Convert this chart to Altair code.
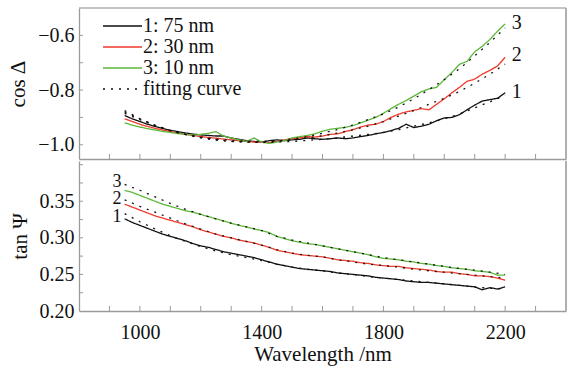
import altair as alt
import pandas as pd

# ---------------- data ----------------
wl = list(range(950, 2201, 25))
wl_fit = list(range(950, 2201, 50))

series_names = ["1: 75 nm", "2: 30 nm", "3: 10 nm", "fitting curve"]
series_colors = ["#111111", "#f03a2c", "#5cb83a", "#111111"]

cos_1 = [-0.893, -0.905, -0.915, -0.925, -0.933, -0.940, -0.947, -0.952, -0.957, -0.961,
         -0.964, -0.966, -0.968, -0.968, -0.975, -0.980, -0.985, -0.988, -0.990, -0.985,
         -0.982, -0.985, -0.982, -0.980, -0.975, -0.978, -0.980, -0.978, -0.975, -0.978,
         -0.975, -0.970, -0.966, -0.960, -0.955, -0.948, -0.940, -0.925, -0.937, -0.932,
         -0.925, -0.912, -0.902, -0.900, -0.890, -0.872, -0.855, -0.840, -0.835, -0.830, -0.810]
cos_2 = [-0.905, -0.915, -0.925, -0.933, -0.940, -0.946, -0.952, -0.957, -0.962, -0.966,
         -0.970, -0.973, -0.976, -0.979, -0.982, -0.985, -0.988, -0.990, -0.990, -0.992,
         -0.988, -0.982, -0.978, -0.975, -0.970, -0.972, -0.968, -0.962, -0.960, -0.952,
         -0.945, -0.935, -0.928, -0.925, -0.915, -0.900, -0.888, -0.880, -0.874, -0.868,
         -0.872, -0.852, -0.832, -0.810, -0.790, -0.768, -0.760, -0.742, -0.728, -0.712, -0.680]
cos_3 = [-0.920, -0.928, -0.935, -0.941, -0.946, -0.951, -0.955, -0.959, -0.962, -0.965,
         -0.962, -0.958, -0.952, -0.968, -0.975, -0.982, -0.988, -0.975, -0.990, -0.995,
         -0.990, -0.985, -0.975, -0.970, -0.966, -0.960, -0.950, -0.943, -0.940, -0.936,
         -0.930, -0.920, -0.910, -0.900, -0.885, -0.868, -0.852, -0.838, -0.822, -0.806,
         -0.796, -0.790, -0.762, -0.736, -0.706, -0.695, -0.660, -0.640, -0.615, -0.585, -0.558]

fit_cos_1 = [-0.875, -0.905, -0.930, -0.948, -0.962, -0.973, -0.981, -0.987, -0.990, -0.992,
             -0.990, -0.988, -0.984, -0.980, -0.975, -0.968, -0.962, -0.955, -0.945, -0.932,
             -0.920, -0.905, -0.888, -0.865, -0.843, -0.820]
fit_cos_2 = [-0.880, -0.905, -0.928, -0.948, -0.963, -0.975, -0.983, -0.988, -0.990, -0.990,
             -0.987, -0.982, -0.975, -0.967, -0.957, -0.945, -0.932, -0.915, -0.895, -0.875,
             -0.852, -0.830, -0.805, -0.775, -0.742, -0.705]
fit_cos_3 = [-0.885, -0.908, -0.930, -0.948, -0.962, -0.972, -0.979, -0.984, -0.987, -0.988,
             -0.985, -0.979, -0.970, -0.958, -0.944, -0.928, -0.908, -0.887, -0.862, -0.832,
             -0.798, -0.762, -0.722, -0.675, -0.626, -0.573]

tan_1 = [0.326, 0.321, 0.317, 0.313, 0.309, 0.305, 0.302, 0.299, 0.296, 0.292,
         0.289, 0.287, 0.284, 0.281, 0.279, 0.277, 0.275, 0.273, 0.270, 0.267,
         0.264, 0.262, 0.260, 0.258, 0.257, 0.256, 0.255, 0.254, 0.252, 0.251,
         0.250, 0.249, 0.248, 0.246, 0.245, 0.244, 0.243, 0.241, 0.240, 0.239,
         0.239, 0.238, 0.237, 0.236, 0.235, 0.234, 0.233, 0.229, 0.232, 0.230, 0.233]
tan_2 = [0.346, 0.342, 0.338, 0.334, 0.330, 0.327, 0.324, 0.321, 0.318, 0.315,
         0.311, 0.308, 0.305, 0.302, 0.300, 0.297, 0.295, 0.293, 0.290, 0.287,
         0.283, 0.281, 0.279, 0.277, 0.276, 0.275, 0.274, 0.272, 0.270, 0.269,
         0.268, 0.266, 0.265, 0.263, 0.262, 0.261, 0.261, 0.259, 0.258, 0.257,
         0.256, 0.254, 0.253, 0.253, 0.251, 0.250, 0.248, 0.248, 0.247, 0.245, 0.242]
tan_3 = [0.365, 0.362, 0.358, 0.354, 0.350, 0.346, 0.343, 0.340, 0.337, 0.335,
         0.332, 0.329, 0.326, 0.323, 0.320, 0.317, 0.315, 0.312, 0.310, 0.307,
         0.302, 0.299, 0.296, 0.294, 0.292, 0.291, 0.289, 0.287, 0.285, 0.283,
         0.281, 0.279, 0.277, 0.274, 0.272, 0.271, 0.270, 0.268, 0.267, 0.265,
         0.264, 0.262, 0.261, 0.259, 0.258, 0.257, 0.255, 0.254, 0.253, 0.249, 0.249]

fit_tan_1 = [0.333, 0.322, 0.312, 0.303, 0.295, 0.288, 0.282, 0.277, 0.273, 0.269,
             0.264, 0.260, 0.257, 0.255, 0.252, 0.250, 0.247, 0.245, 0.243, 0.241,
             0.239, 0.237, 0.235, 0.233, 0.231, 0.230]
fit_tan_2 = [0.352, 0.343, 0.335, 0.327, 0.319, 0.312, 0.305, 0.300, 0.295, 0.290,
             0.284, 0.279, 0.276, 0.274, 0.270, 0.267, 0.264, 0.262, 0.260, 0.257,
             0.255, 0.253, 0.251, 0.249, 0.247, 0.245]
fit_tan_3 = [0.373, 0.365, 0.356, 0.347, 0.339, 0.332, 0.326, 0.320, 0.315, 0.310,
             0.302, 0.297, 0.293, 0.289, 0.285, 0.281, 0.277, 0.273, 0.270, 0.267,
             0.264, 0.261, 0.258, 0.256, 0.253, 0.250]

# curve number labels
top_lab_text = ["1", "2", "3"]
top_lab_x = [2222, 2222, 2222]
top_lab_y = [-0.806, -0.673, -0.556]
bot_lab_text = ["1", "2", "3"]
bot_lab_x = [940, 940, 940]
bot_lab_y = [0.3280, 0.3525, 0.3765]

x_ticks = list(range(900, 2301, 100))
x_labels = [1000, 1400, 1800, 2200]
top_y_ticks = [-1.0, -0.9, -0.8, -0.7, -0.6]
top_y_labels = [-1.0, -0.8, -0.6]
bot_y_ticks = [0.225, 0.25, 0.275, 0.3, 0.325, 0.35, 0.375, 0.4]
bot_y_labels = [0.20, 0.25, 0.30, 0.35]

X_DOMAIN = [800, 2400]
TOP_DOMAIN = [-1.052, -0.5]
BOT_DOMAIN = [0.2, 0.405]

W, H1, H2 = 487, 151, 150
FONT = "Liberation Serif"
AXIS_GRAY = "#9a9a9a"
DASHES = [[1, 0], [1, 0], [1, 0], [2, 6]]


def long_table(meas, fits):
    rows = []
    for name, vals in zip(series_names[:3], meas):
        for w, v in zip(wl, vals):
            rows.append({"wl": w, "v": v, "series": name, "line": name})
    for i, vals in enumerate(fits):
        for w, v in zip(wl_fit, vals):
            rows.append({"wl": w, "v": v, "series": "fitting curve", "line": f"fit{i+1}"})
    return pd.DataFrame(rows)


top_df = long_table([cos_1, cos_2, cos_3], [fit_cos_1, fit_cos_2, fit_cos_3])
bot_df = long_table([tan_1, tan_2, tan_3], [fit_tan_1, fit_tan_2, fit_tan_3])

color_enc = alt.Color("series:N", scale=alt.Scale(domain=series_names, range=series_colors),
                      legend=None)
dash_enc = alt.StrokeDash("series:N", scale=alt.Scale(domain=series_names, range=DASHES),
                          legend=None)
width_enc = alt.StrokeWidth("series:N", scale=alt.Scale(domain=series_names,
                                                        range=[1.3, 1.3, 1.3, 2.4]),
                            legend=None)

AX = dict(labelFont=FONT, titleFont=FONT, labelFontSize=20, titleFontSize=21,
          labelColor="#111", titleColor="#111", titleFontWeight="normal",
          domainColor=AXIS_GRAY, domainWidth=1.3, ticks=False, grid=False, domain=True)


def panel(df, ydomain, ytitle, yticks, ylabels, yfmt, lab_x, lab_y, lab_t, lab_align,
          lab_size, height, show_x_labels, top_border):
    xscale = alt.Scale(domain=X_DOMAIN, nice=False, zero=False)
    yscale = alt.Scale(domain=ydomain, nice=False, zero=False)

    if show_x_labels:
        xaxis = alt.Axis(values=x_labels, title="Wavelength /nm", labelPadding=11,
                         titlePadding=1, format="d", **AX)
    else:
        xaxis = alt.Axis(values=x_labels, labels=False, title=None, minExtent=0,
                         maxExtent=0, **AX)
    yaxis = alt.Axis(values=ylabels, title=ytitle, format=yfmt, labelPadding=5,
                     titlePadding=9, **AX)

    lines = alt.Chart(df).mark_line(strokeWidth=1.3, clip=True).encode(
        x=alt.X("wl:Q", scale=xscale, axis=xaxis),
        y=alt.Y("v:Q", scale=yscale, axis=yaxis),
        color=color_enc, strokeDash=dash_enc, strokeWidth=width_enc,
        detail="line:N", order="wl:Q",
    )

    labs = alt.Chart(pd.DataFrame({"wl": lab_x, "v": lab_y, "t": lab_t})).mark_text(
        font=FONT, fontSize=lab_size, color="#111", align=lab_align, baseline="middle"
    ).encode(x=alt.X("wl:Q", scale=xscale, axis=xaxis),
             y=alt.Y("v:Q", scale=yscale, axis=yaxis), text="t:N")

    xt = alt.Chart(pd.DataFrame({"wl": x_ticks})).mark_rule(color=AXIS_GRAY, strokeWidth=1).encode(
        x=alt.X("wl:Q", scale=xscale, axis=xaxis), y=alt.value(height), y2=alt.value(height - 5))
    yt = alt.Chart(pd.DataFrame({"v": yticks})).mark_rule(color=AXIS_GRAY, strokeWidth=1).encode(
        y=alt.Y("v:Q", scale=yscale, axis=yaxis), x=alt.value(0), x2=alt.value(4))

    right = alt.Chart(pd.DataFrame({"a": [0]})).mark_rule(color="#b0b0b0", strokeWidth=2).encode(
        x=alt.value(W), y=alt.value(0), y2=alt.value(height))
    layers = [lines, labs, xt, yt, right]
    if top_border:
        topb = alt.Chart(pd.DataFrame({"a": [0]})).mark_rule(color="#b0b0b0", strokeWidth=1.5).encode(
            x=alt.value(0), x2=alt.value(W), y=alt.value(0))
        layers.append(topb)
    return alt.layer(*layers).properties(width=W, height=height)


# legend (drawn inside the top panel, rows placed by a point scale)
leg_df = pd.DataFrame({"series": series_names})
leg_y = alt.Y("series:N", scale=alt.Scale(domain=series_names, type="point",
                                          range=[18, 81], padding=0), axis=None)
leg_lines = alt.Chart(leg_df).mark_rule(strokeWidth=1.5).encode(
    y=leg_y, x=alt.value(24), x2=alt.value(63),
    color=color_enc, strokeDash=dash_enc, strokeWidth=width_enc)
leg_text = alt.Chart(leg_df).mark_text(font=FONT, fontSize=20, color="#111",
                                       align="left", baseline="middle").encode(
    y=leg_y, x=alt.value(64), text="series:N")
legend_layer = alt.layer(leg_lines, leg_text)

top_main = panel(top_df, TOP_DOMAIN, "cos Δ", top_y_ticks, top_y_labels, ".1f",
                 top_lab_x, top_lab_y, top_lab_text, "left", 20, H1, False, True)
top = alt.layer(top_main, legend_layer).resolve_scale(y="independent").properties(
    width=W, height=H1)
bot = panel(bot_df, BOT_DOMAIN, "tan Ψ", bot_y_ticks, bot_y_labels, ".2f",
            bot_lab_x, bot_lab_y, bot_lab_text, "right", 18, H2, True, False)

chart = alt.vconcat(top, bot, spacing=0).properties(
    autosize=alt.AutoSizeParams(type="pad"),
    padding={"left": 7, "top": 7, "right": 5, "bottom": 5},
    background="#ffffff",
).configure_view(strokeWidth=0)

chart.save("out.html", embed_options={"renderer": "svg", "actions": False})
